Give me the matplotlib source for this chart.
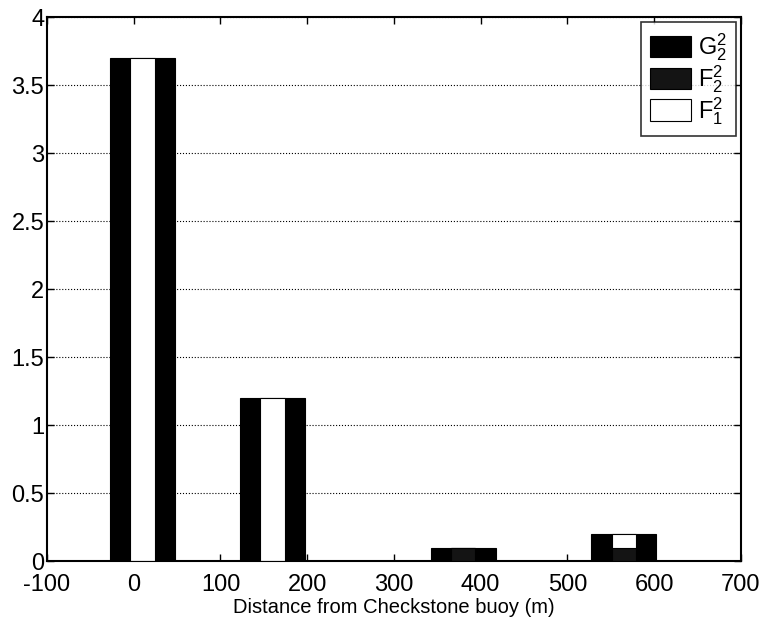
import matplotlib
matplotlib.use("Agg")
import matplotlib.pyplot as plt
import numpy as np

# Data
distances = [10, 160, 380, 565]          # group centres (m)
G22 = [3.7, 1.2, 0.1, 0.2]               # wide black bars
F12 = [3.7, 1.2, 0.1, 0.2]               # narrow white bars
F22 = [0.0, 0.0, 0.1, 0.1]               # narrow dark bars
xticks = [-100, 0, 100, 200, 300, 400, 500, 600, 700]
xticklabels = ['-100', '0', '100', '200', '300', '400', '500', '600', '700']
yticks = [0, 0.5, 1, 1.5, 2, 2.5, 3, 3.5, 4]
yticklabels = ['0', '0.5', '1', '1.5', '2', '2.5', '3', '3.5', '4']

plt.rcParams['font.family'] = ['Liberation Sans', 'DejaVu Sans']
plt.rcParams['mathtext.fontset'] = 'custom'
plt.rcParams['mathtext.rm'] = 'Liberation Sans'
plt.rcParams['mathtext.it'] = 'Liberation Sans'

fig = plt.figure(figsize=(7.59, 6.2), dpi=100)
ax = fig.add_axes([0.062, 0.095, 0.914, 0.877])

wide = 75
narrow = 28
b1 = ax.bar(distances, G22, width=wide, color='black', edgecolor='black', linewidth=0.8, zorder=2)
b2 = ax.bar(distances, F12, width=narrow, color='white', edgecolor='black', linewidth=0.8, zorder=3)
b3 = ax.bar(distances, F22, width=narrow, color='#141414', edgecolor='black', linewidth=0.8, zorder=4)

ax.set_xlim(-100, 700)
ax.set_ylim(0, 4)
ax.set_xticks(xticks)
ax.set_xticklabels(xticklabels)
ax.set_yticks(yticks)
ax.set_yticklabels(yticklabels)
ax.tick_params(direction='in', labelsize=17, length=5, width=1, top=True, right=True)
ax.tick_params(axis='x', pad=9)
ax.tick_params(axis='y', pad=2)
ax.yaxis.grid(True, linestyle=':', color='black', linewidth=0.8, zorder=1)
ax.set_axisbelow(True)
for s in ax.spines.values():
    s.set_linewidth(1.5)

ax.set_xlabel('Distance from Checkstone buoy (m)', fontsize=14.5, labelpad=2)

leg = ax.legend([b1, b3, b2],
                [r'$\mathregular{G_2^2}$', r'$\mathregular{F_2^2}$', r'$\mathregular{F_1^2}$'],
                loc='upper right', fontsize=17, frameon=True, fancybox=False,
                edgecolor='black', handlelength=1.7, handleheight=1.0,
                borderaxespad=0.2, labelspacing=0.0, handletextpad=0.3,
                borderpad=0.4)
leg.get_frame().set_linewidth(1.2)

fig.savefig('out.png', dpi=100)
